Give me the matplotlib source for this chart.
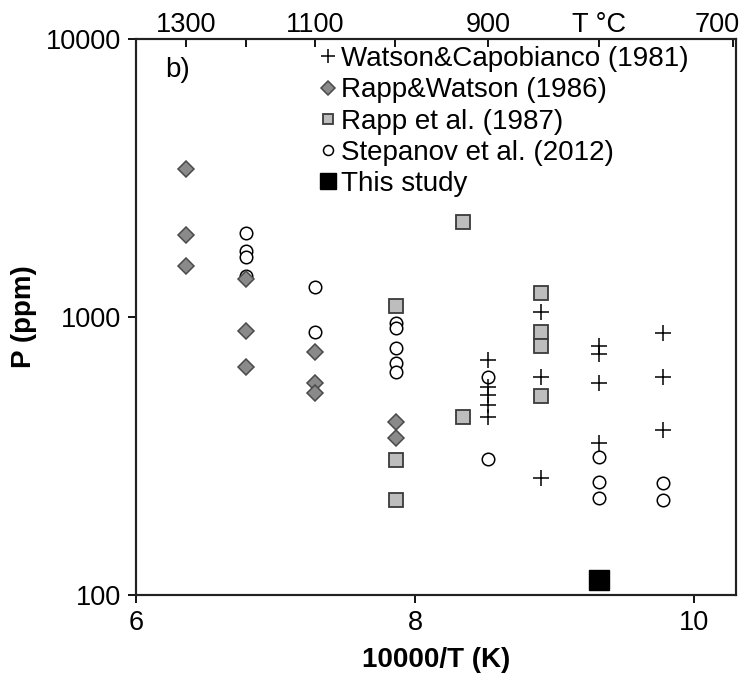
import matplotlib
matplotlib.use("Agg")
import matplotlib.pyplot as plt
from matplotlib.transforms import ScaledTranslation

plt.rcParams['font.family'] = ['Liberation Sans', 'DejaVu Sans']

# x = 10000/T (K), y = P (ppm)
watson_x = [8.52, 8.52, 8.52, 8.52, 8.52, 8.90, 8.90, 8.90, 9.32, 9.32, 9.32, 9.32, 9.78, 9.78, 9.78]
watson_y = [698, 558, 523, 481, 436, 1046, 607, 263, 784, 739, 577, 351, 873, 607, 391]

rappw_x = [6.36, 6.36, 6.36, 6.79, 6.79, 6.79, 7.28, 7.28, 7.28, 7.86, 7.86]
rappw_y = [3414, 1977, 1531, 1375, 887, 659, 746, 577, 531, 418, 366]

rapp_x = [7.86, 7.86, 7.86, 8.34, 8.34, 8.90, 8.90, 8.90, 8.90]
rapp_y = [1091, 305, 219, 2203, 436, 1215, 880, 784, 518]

step_x = [6.79, 6.79, 6.79, 6.79, 7.28, 7.28, 7.86, 7.86, 7.86, 7.86, 7.86,
          8.52, 8.52, 9.32, 9.32, 9.32, 9.78, 9.78]
step_y = [2011, 1733, 1650, 1400, 1287, 880, 955, 910, 771, 681, 632,
          607, 308, 313, 255, 223, 253, 219]

this_x = [9.32]
this_y = [113]

# top axis: temperature in degC
top_temps = [1300, 1200, 1100, 1000, 900, 800, 700]
top_labels = ['1300', '', '1100', '', '900', 'T °C', '700']

fig = plt.figure(figsize=(7.45, 6.87), dpi=100)
ax = fig.add_axes([136 / 745, 1 - 595 / 687, 600 / 745, 556 / 687])

ax.plot(step_x, step_y, 'o', ms=9, mfc='white', mec='black', mew=1.1,
        label='Stepanov et al. (2012)', zorder=2)
ax.plot(watson_x, watson_y, '+', ms=12, color='black', mew=1.1,
        label='Watson&Capobianco (1981)', zorder=3)
ax.plot(rappw_x, rappw_y, 'D', ms=8.5, mfc='#8a8a8a', mec='#4a4a4a', mew=1.1,
        label='Rapp&Watson (1986)', zorder=3)
ax.plot(rapp_x, rapp_y, 's', ms=9.5, mfc='#bdbdbd', mec='#3a3a3a', mew=1.3,
        label='Rapp et al. (1987)', zorder=3)
ax.plot(this_x, this_y, 's', ms=14, color='black', label='This study', zorder=4)

ax.set_yscale('log')
ax.set_xlim(6, 10.3)
ax.set_ylim(100, 10000)
ax.set_xticks([6, 8, 10])
ax.set_xticklabels(['6', '8', '10'])
ax.set_yticks([100, 1000, 10000])
ax.set_yticklabels(['100', '1000', '10000'])
ax.minorticks_off()
ax.tick_params(axis='both', labelsize=19.5, length=6, width=1.3, direction='out', pad=5)

for s in ax.spines.values():
    s.set_linewidth(1.5)
    s.set_color('#222222')

ax.set_xlabel('10000/T (K)', fontsize=20, fontweight='bold', labelpad=8)
ax.set_ylabel('P (ppm)', fontsize=20, fontweight='bold', labelpad=6)

ax2 = ax.twiny()
ax2.set_xlim(ax.get_xlim())
ax2.set_xticks([10000.0 / (t + 273.15) for t in top_temps])
ax2.set_xticklabels(top_labels)
ax2.tick_params(labelsize=19.5, length=6, width=1.3, direction='in', pad=1)
ax2.minorticks_off()
for s in ax2.spines.values():
    s.set_linewidth(1.5)
    s.set_color('#222222')
# last label sits left of its tick so it stays inside the figure
lab700 = ax2.get_xticklabels()[-1]
lab700.set_horizontalalignment('right')
lab700.set_transform(lab700.get_transform() + ScaledTranslation(7 / 100, 0, fig.dpi_scale_trans))

ax.text(0.048, 0.944, 'b)', transform=ax.transAxes, fontsize=20, va='center')

order = [1, 2, 3, 0, 4]
h, l = ax.get_legend_handles_labels()
ax.legend([h[i] for i in order], [l[i] for i in order],
          loc='upper left', bbox_to_anchor=(320 / 745, 1 - 46 / 687),
          bbox_transform=fig.transFigure, frameon=False, fontsize=20,
          handlelength=0.55, handletextpad=0.2, labelspacing=0.19,
          borderpad=0, borderaxespad=0, markerscale=0.8)

fig.savefig('out.png', dpi=100)
